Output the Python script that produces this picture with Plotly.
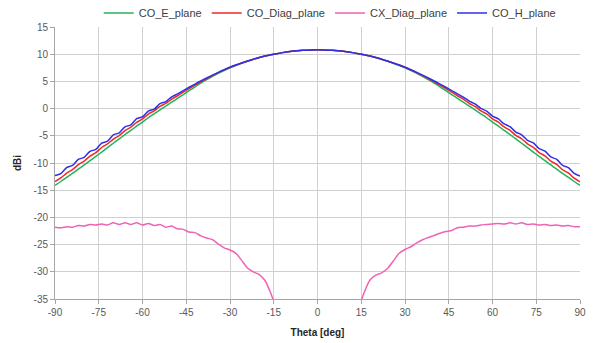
import plotly.graph_objects as go

theta = list(range(-90, 91, 2))

co_h_plane = [
    -12.30, -11.95, -10.85, -10.45, -9.35, -8.95, -7.85, -7.50, -6.35, -6.00,
    -4.85, -4.45, -3.35, -3.00, -1.85, -1.50, -0.45, -0.10, 0.90, 1.30,
    2.15, 2.70, 3.32, 3.92, 4.51, 5.08, 5.63, 6.16, 6.67, 7.15,
    7.60, 8.01, 8.39, 8.75, 9.08, 9.38, 9.65, 9.89, 10.10, 10.29,
    10.44, 10.57, 10.67, 10.74, 10.79, 10.80, 10.79, 10.74, 10.67, 10.57,
    10.44, 10.29, 10.10, 9.89, 9.65, 9.38, 9.08, 8.75, 8.39, 8.01,
    7.60, 7.15, 6.67, 6.16, 5.63, 5.08, 4.51, 3.92, 3.32, 2.70,
    2.12, 1.38, 0.85, 0.05, -0.46, -1.39, -1.90, -2.82, -3.33, -4.31,
    -4.82, -5.82, -6.32, -7.36, -7.83, -8.89, -9.33, -10.42, -10.83, -11.90,
    -12.38,
]

co_diag_plane = [
    -13.40, -12.75, -11.85, -11.20, -10.30, -9.65, -8.75, -8.10, -7.15, -6.50,
    -5.60, -4.95, -4.05, -3.40, -2.55, -1.90, -1.00, -0.40, 0.40, 0.98,
    1.73, 2.36, 3.02, 3.66, 4.30, 4.91, 5.50, 6.07, 6.61, 7.12,
    7.59, 8.01, 8.39, 8.75, 9.08, 9.38, 9.65, 9.89, 10.10, 10.29,
    10.44, 10.57, 10.67, 10.74, 10.79, 10.80, 10.79, 10.74, 10.67, 10.57,
    10.44, 10.29, 10.10, 9.89, 9.65, 9.38, 9.08, 8.75, 8.39, 8.01,
    7.59, 7.12, 6.61, 6.07, 5.50, 4.91, 4.30, 3.66, 3.02, 2.36,
    1.73, 0.98, 0.39, -0.40, -0.99, -1.89, -2.49, -3.38, -3.99, -4.92,
    -5.54, -6.49, -7.11, -8.08, -8.69, -9.66, -10.26, -11.24, -11.82, -12.79,
    -13.45,
]

co_e_plane = [
    -14.10, -13.40, -12.66, -11.90, -11.14, -10.36, -9.58, -8.79, -7.99, -7.18,
    -6.37, -5.57, -4.78, -4.00, -3.23, -2.48, -1.68, -0.96, -0.24, 0.47,
    1.17, 1.88, 2.58, 3.30, 4.01, 4.68, 5.31, 5.91, 6.48, 7.01,
    7.50, 7.93, 8.33, 8.70, 9.05, 9.36, 9.65, 9.89, 10.10, 10.29,
    10.44, 10.57, 10.67, 10.74, 10.79, 10.80, 10.79, 10.74, 10.67, 10.57,
    10.44, 10.29, 10.10, 9.89, 9.65, 9.36, 9.05, 8.70, 8.33, 7.93,
    7.50, 7.01, 6.48, 5.91, 5.31, 4.68, 4.01, 3.30, 2.58, 1.88,
    1.17, 0.47, -0.24, -0.96, -1.68, -2.48, -3.23, -4.00, -4.78, -5.57,
    -6.37, -7.18, -7.99, -8.79, -9.58, -10.36, -11.14, -11.90, -12.66, -13.40,
    -14.13,
]

cx_diag_plane = [
    -21.8, -21.9, -21.7, -21.8, -21.5, -21.6, -21.3, -21.4, -21.2, -21.4,
    -21.0, -21.3, -21.0, -21.3, -21.0, -21.4, -21.1, -21.5, -21.3, -21.8,
    -21.6, -22.1, -22.2, -22.7, -22.8, -23.4, -23.8, -24.1, -24.9, -25.6,
    -26.0, -26.6, -27.9, -29.3, -30.0, -30.5, -31.6, -34.0, -37.0, -40.5,
    -44.0, -48.0, -52.0, -56.0, -60.0, -62.0, -60.0, -56.0, -52.0, -48.0,
    -44.0, -40.5, -37.0, -33.8, -31.5, -30.6, -30.2, -29.4, -28.0, -26.6,
    -25.9, -25.4, -24.7, -24.1, -23.7, -23.3, -22.9, -22.6, -22.4, -21.9,
    -21.8, -21.6, -21.6, -21.4, -21.3, -21.2, -21.1, -21.2, -21.0, -21.2,
    -21.0, -21.3, -21.2, -21.4, -21.3, -21.5, -21.4, -21.6, -21.5, -21.7,
    -21.7,
]

x_ticks = list(range(-90, 91, 15))
y_ticks = list(range(-35, 16, 5))

series = [
    ("CO_E_plane", co_e_plane, "#22b35a"),
    ("CO_Diag_plane", co_diag_plane, "#ee2a2a"),
    ("CX_Diag_plane", cx_diag_plane, "#f062b4"),
    ("CO_H_plane", co_h_plane, "#2f2fe6"),
]

W, H = 586, 335  # page body has an 8px margin inside the 594x343 window

fig = go.Figure()
for name, vals, col in series:
    fig.add_trace(go.Scatter(x=theta, y=vals, name=name, mode="lines",
                             line=dict(color=col, width=1.5, shape="spline", smoothing=0.8)))

fig.update_layout(
    width=W, height=H,
    margin=dict(l=47, r=14, t=19, b=44, autoexpand=False),
    paper_bgcolor="white", plot_bgcolor="white",
    font=dict(family="Arial, Liberation Sans, sans-serif", size=10, color="#595959"),
    showlegend=True,
    legend=dict(orientation="h", x=0.549, xanchor="center", xref="container",
                y=1 - 5 / H, yanchor="middle", yref="container",
                font=dict(size=11, color="#404040"), itemwidth=30,
                bgcolor="rgba(0,0,0,0)", tracegroupgap=0),
)

fig.update_xaxes(range=[-90, 90], tickvals=x_ticks, ticktext=[str(v) for v in x_ticks],
                 showgrid=True, gridcolor="#d0d0d0", gridwidth=1,
                 zeroline=False, showline=True, linecolor="#a6a6a6", linewidth=1,
                 ticks="outside", ticklen=4, tickcolor="#a6a6a6", automargin=False,
                 title=dict(text="<b>Theta [deg]</b>", font=dict(size=10, color="#262626"), standoff=11))
fig.update_yaxes(range=[-35, 15], tickvals=y_ticks, ticktext=[str(v) for v in y_ticks],
                 showgrid=True, gridcolor="#d0d0d0", gridwidth=1,
                 zeroline=False, showline=True, linecolor="#a6a6a6", linewidth=1,
                 ticks="outside", ticklen=4, tickcolor="#a6a6a6", automargin=False,
                 title=dict(text="<b>dBi</b>", font=dict(size=10, color="#262626"), standoff=10))

fig.write_html("out.html")
